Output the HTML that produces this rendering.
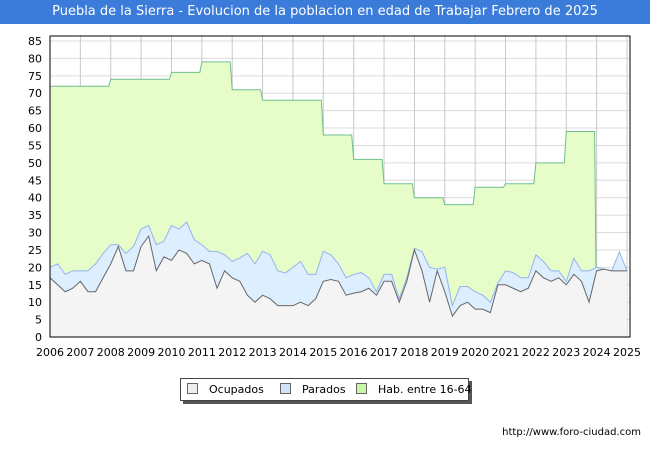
<!DOCTYPE html>
<html><head><meta charset="utf-8">
<style>
body{margin:0;width:650px;height:450px;background:#fff;font-family:"DejaVu Sans","Liberation Sans",sans-serif;overflow:hidden;position:relative}
#title{position:absolute;left:0;top:0;width:650px;height:24px;background:#3b7bd9;color:#fff;font-size:13px;line-height:24px;text-align:center}
#legend{position:absolute;left:180px;top:378px;width:287px;height:21px;border:1px solid #444;background:#fff;box-shadow:3px 3px 0 #555;font-size:11px}
.li{position:absolute;top:4px;white-space:nowrap}
.sw{display:inline-block;width:9px;height:9px;border:1px solid #666;margin-right:11px;vertical-align:-1px}
#foot{position:absolute;right:9px;top:427px;font-size:10px;color:#000}
</style></head><body>
<div id="title">Puebla de la Sierra - Evolucion de la poblacion en edad de Trabajar Febrero de 2025</div>
<svg id="chart" width="650" height="450" style="position:absolute;left:0;top:0;pointer-events:none"></svg>
<div id="legend">
 <span class="li" style="left:6px"><span class="sw" style="background:#eee"></span>Ocupados</span>
 <span class="li" style="left:99px"><span class="sw" style="background:#cfe3fb"></span>Parados</span>
 <span class="li" style="left:175px"><span class="sw" style="background:#ccf5a8"></span>Hab. entre 16-64</span>
</div>
<div id="foot">http://www.foro-ciudad.com</div>
<script>
const years=[2006,2007,2008,2009,2010,2011,2012,2013,2014,2015,2016,2017,2018,2019,2020,2021,2022,2023,2024,2025];
const yTicks=[0,5,10,15,20,25,30,35,40,45,50,55,60,65,70,75,80,85];
const habYears=[2006,2007,2008,2009,2010,2011,2012,2013,2014,2015,2016,2017,2018,2019,2020,2021,2022,2023];
const habValues=[72,72,74,74,76,79,71,68,68,58,51,44,40,38,43,44,50,59];
const ocupados=[17,15,13,14, 16,13,13,17, 21,26,19,19, 26,29,19,23, 22,25,24,21, 22,21,14,19, 17,16,12,10, 12,11,9,9, 9,10,9,11, 16,16.5,16,12, 12.6,13,14,12, 16,16,10,16, 25,19,10,19, 13,6,9,10, 8,8,7,15, 15,14,13,14, 19,17,16,17, 15,18,16,10, 19,19.5,19,19, 19];
const parados=[3,6,5,5, 3,6,8,7, 5.5,0.5,5,7, 5,3,7.5,4.5, 10,6,9,7, 4.5,3.6,10.6,4.6, 4.7,6.7,12,11, 12.6,12.6,10,9.4, 11,11.7,9,7, 8.6,7.1,5,5, 5.4,5.5,3,1, 2,2,1,1, 0.5,5.5,10,0.5, 7,3,5.5,4.5, 5,4,3,0.5, 4,4.5,4,3, 4.6,4.7,3,2, 1,4.6,3,9, 1,0,0,5.5, 0];
const L=50,R=630,T=36,B=337;
const X=v=>L+(v-2006)*(627-50)/19, Y=v=>B-v*(B-41)/85;
const svg=document.getElementById('chart'),NS='http://www.w3.org/2000/svg';
function mk(t,a,name){const e=document.createElementNS(NS,t);for(const k in a)e.setAttribute(k,a[k]);


svg.appendChild(e);return e;}
yTicks.forEach(v=>{mk('line',{x1:L,x2:R,y1:Y(v),y2:Y(v),stroke:'#dcdcdc','stroke-width':1},'h-grid');
 const t=mk('text',{x:42,y:Y(v)+4,'text-anchor':'end','font-size':11,fill:'#000'},'y-tick-label');t.textContent=v;});
years.forEach(v=>{mk('line',{x1:X(v),x2:X(v),y1:T,y2:B,stroke:'#c8c8c8','stroke-width':1},'v-grid');
 const t=mk('text',{x:X(v),y:356,'text-anchor':'middle','font-size':11,fill:'#000'},'x-tick-label');t.textContent=v;});
let habPath='M'+X(habYears[0])+','+Y(0);
habYears.forEach((yr,i)=>{habPath+=' L'+X(yr)+','+Y(habValues[i])+' L'+(X(yr+1)-2)+','+Y(habValues[i]);});
habPath+=' L'+X(2024)+','+Y(0)+' Z';
mk('path',{d:habPath,fill:'#e6fdc9',stroke:'#6fbf8f','stroke-width':1},'hab-area');
const qx=i=>X(2006+i*0.25);
let topPath='',botPath='';
ocupados.forEach((o,i)=>{topPath+=(i?' L':'M')+qx(i)+','+Y(o+parados[i]);});
for(let i=ocupados.length-1;i>=0;i--)botPath+=' L'+qx(i)+','+Y(ocupados[i]);
mk('path',{d:topPath+botPath+' Z',fill:'#ddeeff',stroke:'none'},'parados-area');
mk('path',{d:topPath,fill:'none',stroke:'#94b4ee','stroke-width':1},'parados-line');
let ocPath='';ocupados.forEach((o,i)=>{ocPath+=(i?' L':'M')+qx(i)+','+Y(o);});
mk('path',{d:ocPath+' L'+qx(ocupados.length-1)+','+Y(0)+' L'+qx(0)+','+Y(0)+' Z',fill:'#f4f4f4',stroke:'none'},'ocupados-area');
mk('path',{d:ocPath,fill:'none',stroke:'#666','stroke-width':1},'ocupados-line');
mk('rect',{x:L,y:T,width:R-L,height:B-T,fill:'none',stroke:'#000','stroke-width':1},'plot-border');
</script>
</body></html>
